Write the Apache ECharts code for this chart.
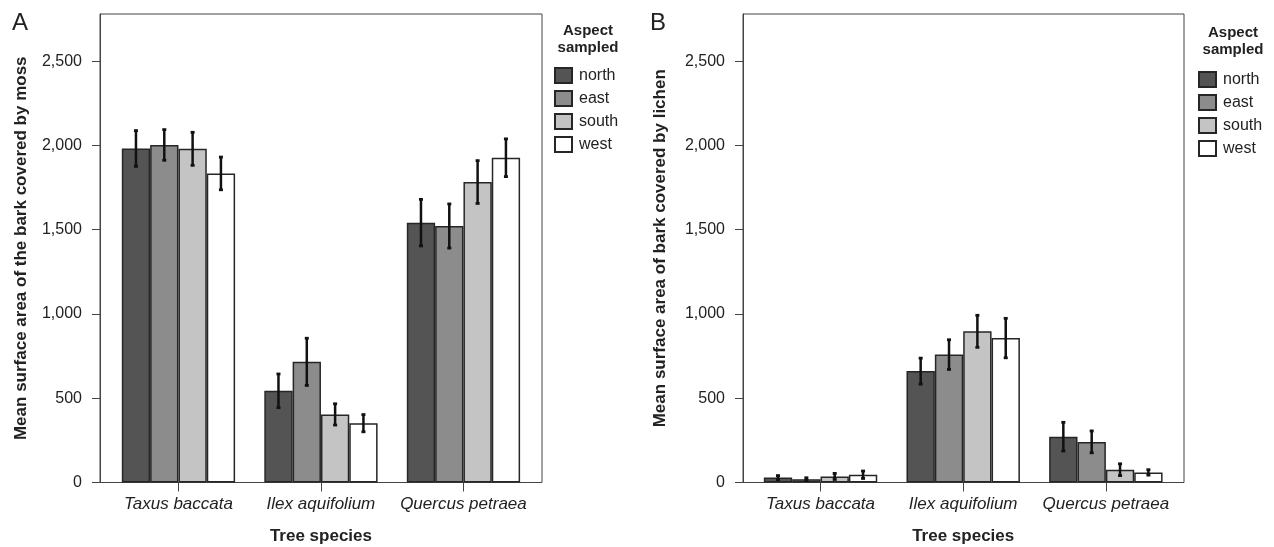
<!DOCTYPE html>
<html>
<head>
<meta charset="utf-8">
<script src="https://cdn.jsdelivr.net/npm/echarts@6/dist/echarts.min.js"></script>
<style>
html,body{margin:0;padding:0;background:#fff;}
#chart{width:1274px;height:547px;}
</style>
</head>
<body>
<div id="chart"></div>
<script>
// ---- data ----
const categories = ['Taxus baccata', 'Ilex aquifolium', 'Quercus petraea'];
const aspects = ['north', 'east', 'south', 'west'];
const yTicks = [0, 500, 1000, 1500, 2000, 2500];
const yMax = 2780;

const mossNorth = [1982, 544, 1542];
const mossEast  = [2003, 716, 1522];
const mossSouth = [1980, 404, 1783];
const mossWest  = [1834, 352, 1927];
const mossNorthErr = [106, 100, 138];
const mossEastErr  = [91, 140, 131];
const mossSouthErr = [98, 63, 127];
const mossWestErr  = [97, 51, 112];

const lichenNorth = [29, 661, 272];
const lichenEast  = [20, 759, 241];
const lichenSouth = [36, 897, 76];
const lichenWest  = [46, 857, 60];
const lichenNorthErr = [12, 77, 85];
const lichenEastErr  = [8, 88, 65];
const lichenSouthErr = [18, 95, 35];
const lichenWestErr  = [22, 117, 16];

const aspectColors = ['#545454', '#8c8c8c', '#c4c4c4', '#ffffff'];

// ---- chart ----
const FONT = "'Liberation Sans', Arial, sans-serif";
const TXT = '#222';
const FRAME = '#444';
const GAP = 0.205;

const chart = echarts.init(document.getElementById('chart'), null, {renderer: 'canvas'});

function fmt(v) {
  return yTicks.indexOf(v) >= 0 ? v.toLocaleString('en-US') : '';
}

function frameY(gridIndex, name, nameGap) {
  return {
    type: 'value', gridIndex: gridIndex, min: 0, max: yMax, interval: 500,
    name: name, nameLocation: 'middle', nameGap: nameGap,
    nameTextStyle: {fontFamily: FONT, fontSize: 17, fontWeight: 'bold', color: TXT},
    axisLine: {show: true, lineStyle: {color: FRAME, width: 1}},
    axisTick: {show: true, length: 8, lineStyle: {color: FRAME}, customValues: yTicks},
    axisLabel: {fontFamily: FONT, fontSize: 16, color: TXT, margin: 18, formatter: fmt, customValues: yTicks},
    splitLine: {show: false}
  };
}
function dataY(gridIndex) {
  return {type: 'value', gridIndex: gridIndex, min: 0, max: yMax, show: false, splitLine: {show: false}};
}
function frameX(gridIndex) {
  return {type: 'category', gridIndex: gridIndex, data: [''], show: false};
}
function dataX(gridIndex) {
  return {
    type: 'category', gridIndex: gridIndex, data: categories,
    name: 'Tree species', nameLocation: 'middle', nameGap: 45,
    nameTextStyle: {fontFamily: FONT, fontSize: 17, fontWeight: 'bold', color: TXT},
    axisLine: {show: false},
    axisTick: {show: true, alignWithLabel: true, interval: 0, length: 9, lineStyle: {color: FRAME}},
    axisLabel: {fontFamily: FONT, fontSize: 17, fontStyle: 'italic', color: TXT, margin: 13, interval: 0, hideOverlap: false}
  };
}

function barSeries(name, k, values, axisIdx) {
  return {
    type: 'bar', name: name, data: values,
    xAxisIndex: axisIdx, yAxisIndex: axisIdx,
    barGap: '0%', barCategoryGap: (GAP * 100) + '%',
    itemStyle: {color: aspectColors[k], borderColor: '#262626', borderWidth: 1.5},
    emphasis: {disabled: true}, z: 2, animation: false
  };
}
function errSeries(k, values, errs, axisIdx) {
  const rows = values.map((v, i) => [i, v - errs[i], v + errs[i]]);
  return {
    type: 'custom', data: rows, xAxisIndex: axisIdx, yAxisIndex: axisIdx,
    encode: {x: 0, y: [1, 2]}, z: 5, silent: true, animation: false,
    renderItem: function (params, api) {
      const i = api.value(0);
      const lo = api.coord([i, api.value(1)]);
      const hi = api.coord([i, api.value(2)]);
      const band = api.size([1, 0])[0];
      const bw = band * (1 - GAP) / 4;
      const x = lo[0] + (k - 1.5) * bw;
      const st = {stroke: '#111', lineWidth: 2.5};
      const cap = {stroke: '#111', lineWidth: 2.8};
      return {type: 'group', children: [
        {type: 'line', shape: {x1: x, y1: hi[1], x2: x, y2: lo[1]}, style: st},
        {type: 'line', shape: {x1: x - 2, y1: hi[1], x2: x + 2, y2: hi[1]}, style: cap},
        {type: 'line', shape: {x1: x - 2, y1: lo[1], x2: x + 2, y2: lo[1]}, style: cap}
      ]};
    }
  };
}

const mossVals = [mossNorth, mossEast, mossSouth, mossWest];
const mossErrs = [mossNorthErr, mossEastErr, mossSouthErr, mossWestErr];
const lichenVals = [lichenNorth, lichenEast, lichenSouth, lichenWest];
const lichenErrs = [lichenNorthErr, lichenEastErr, lichenSouthErr, lichenWestErr];

const series = [];
aspects.forEach((a, k) => series.push(barSeries(a, k, mossVals[k], 1)));
aspects.forEach((a, k) => series.push(errSeries(k, mossVals[k], mossErrs[k], 1)));
aspects.forEach((a, k) => series.push(barSeries(a, k, lichenVals[k], 3)));
aspects.forEach((a, k) => series.push(errSeries(k, lichenVals[k], lichenErrs[k], 3)));

function legend(left, top) {
  return {
    data: aspects, left: left, top: top, orient: 'vertical', padding: 0,
    itemWidth: 17, itemHeight: 15, itemGap: 6, icon: 'rect', selectedMode: false,
    textStyle: {fontFamily: FONT, fontSize: 16, color: TXT, lineHeight: 15, padding: [0, 0, 0, 2]}
  };
}
function legendTitle(left, top) {
  return {
    text: 'Aspect\nsampled', left: left, top: top, textAlign: 'center', padding: 0,
    textStyle: {fontFamily: FONT, fontSize: 15, fontWeight: 'bold', color: TXT, lineHeight: 17}
  };
}

const option = {
  animation: false,
  backgroundColor: '#fff',
  title: [
    {text: 'A', left: 12, top: 11, padding: 0, textStyle: {fontFamily: FONT, fontSize: 24, fontWeight: 'normal', color: TXT}},
    {text: 'B', left: 650, top: 11, padding: 0, textStyle: {fontFamily: FONT, fontSize: 24, fontWeight: 'normal', color: TXT}},
    legendTitle(588, 22),
    legendTitle(1233, 24)
  ],
  legend: [legend(554, 67), legend(1198, 71)],
  grid: [
    {left: 100, top: 14, width: 442, height: 468.5, show: true, borderColor: FRAME, borderWidth: 1, backgroundColor: 'transparent', outerBoundsMode: 'none'},
    {left: 107.2, top: 14, width: 427.5, height: 468.5, outerBoundsMode: 'none'},
    {left: 743, top: 14, width: 441, height: 468.5, show: true, borderColor: FRAME, borderWidth: 1, backgroundColor: 'transparent', outerBoundsMode: 'none'},
    {left: 749.2, top: 14, width: 428, height: 468.5, outerBoundsMode: 'none'}
  ],
  xAxis: [frameX(0), dataX(1), frameX(2), dataX(3)],
  yAxis: [
    frameY(0, 'Mean surface area of the bark covered by moss', 70),
    dataY(1),
    frameY(2, 'Mean surface area of bark covered by lichen', 74),
    dataY(3)
  ],
  series: series
};
chart.setOption(option);
</script>
</body>
</html>
